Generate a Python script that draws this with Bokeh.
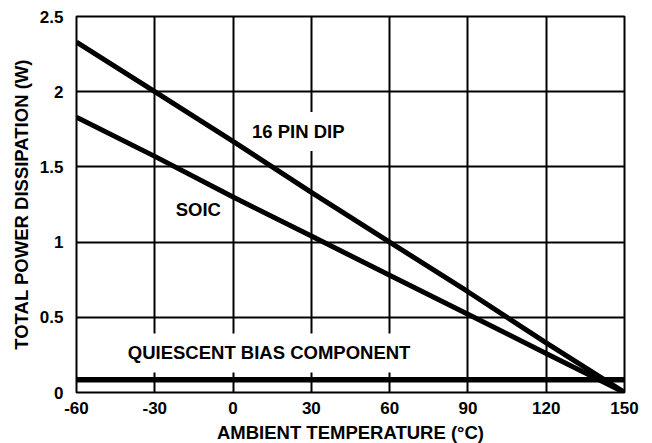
from bokeh.plotting import figure
from bokeh.models import Range1d, FixedTicker, Label
from bokeh.embed import file_html
from bokeh.resources import INLINE

# ---- data ----
temps = [-60, -30, 0, 30, 60, 90, 120, 150]
dip_power = [2.33, 2.00, 1.67, 1.33, 1.00, 0.67, 0.33, 0.00]
soic_power = [1.83, 1.57, 1.30, 1.04, 0.78, 0.52, 0.26, 0.00]
quiescent_x = [-60, 150]
quiescent_power = [0.085, 0.085]

x_ticks = [-60, -30, 0, 30, 60, 90, 120, 150]
x_tick_labels = ["-60", "-30", "0", "30", "60", "90", "120", "150"]
y_ticks = [0, 0.5, 1, 1.5, 2, 2.5]
y_tick_labels = ["0", "0.5", "1", "1.5", "2", "2.5"]

FONT = "Liberation Sans"

p = figure(frame_width=548, frame_height=376,
           x_range=Range1d(-60, 150), y_range=Range1d(0, 2.5),
           output_backend="svg", toolbar_location=None,
           min_border_left=76, min_border_right=16,
           min_border_top=16, min_border_bottom=40)
p.background_fill_color = "white"
p.border_fill_color = "white"
p.outline_line_color = "black"
p.outline_line_width = 2

p.xaxis.ticker = FixedTicker(ticks=x_ticks)
p.yaxis.ticker = FixedTicker(ticks=y_ticks)
p.xgrid.ticker = FixedTicker(ticks=x_ticks)
p.ygrid.ticker = FixedTicker(ticks=y_ticks)
p.xaxis.major_label_overrides = {t: s for t, s in zip(x_ticks, x_tick_labels)}
p.yaxis.major_label_overrides = {t: s for t, s in zip(y_ticks, y_tick_labels)}

for g in (p.xgrid, p.ygrid):
    g.grid_line_color = "black"
    g.grid_line_width = 2
    g.grid_line_alpha = 1.0

for ax in (p.xaxis, p.yaxis):
    ax.axis_line_color = None
    ax.major_tick_line_color = None
    ax.minor_tick_line_color = None
    ax.major_tick_out = 0
    ax.major_tick_in = 0
    ax.minor_tick_out = 0
    ax.minor_tick_in = 0
    ax.major_label_text_font = FONT
    ax.major_label_text_font_style = "bold"
    ax.major_label_text_font_size = "17px"
    ax.major_label_text_color = "black"
    ax.axis_label_text_font = FONT
    ax.axis_label_text_font_style = "bold"
    ax.axis_label_text_font_size = "18.5px"
    ax.axis_label_text_color = "black"

p.xaxis.axis_label = "AMBIENT TEMPERATURE (°C)"
p.yaxis.axis_label = "TOTAL POWER DISSIPATION (W)"
p.xaxis.major_label_standoff = 9
p.xaxis.axis_label_standoff = 5
p.yaxis.major_label_standoff = 13
p.yaxis.axis_label_standoff = 5

p.line(temps, dip_power, line_color="black", line_width=5)
p.line(temps, soic_power, line_color="black", line_width=5)
p.line(quiescent_x, quiescent_power, line_color="black", line_width=5.5)

label_style = dict(text_font=FONT, text_font_style="bold", text_font_size="18.5px",
                   text_color="black", text_align="center", text_baseline="middle",
                   background_fill_color="white", padding=9, level="underlay")
p.add_layout(Label(x=25.0, y=1.735, text="16 PIN DIP", **label_style))
p.add_layout(Label(x=-13.3, y=1.22, text="SOIC", **label_style))
p.add_layout(Label(x=13.8, y=0.263, text="QUIESCENT BIAS COMPONENT", **label_style))

open("out.html", "w").write(file_html(p, INLINE))
